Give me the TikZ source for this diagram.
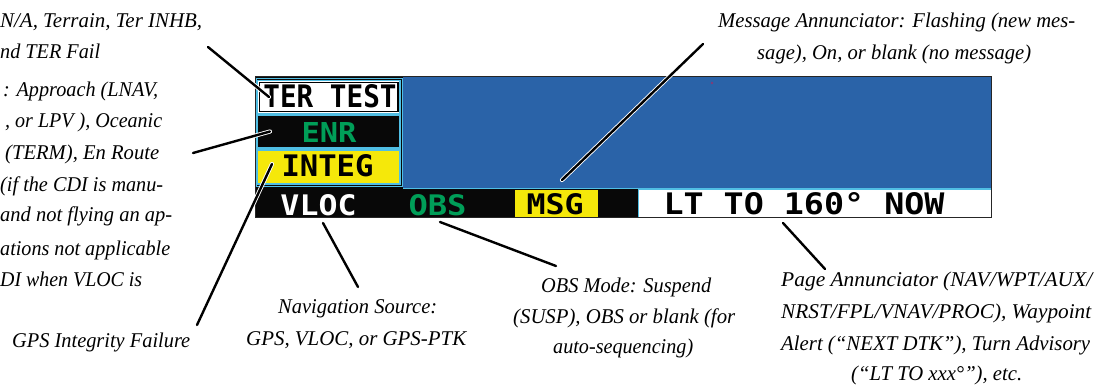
\documentclass[tikz,border=0pt]{standalone}
\usepackage{fontspec}
\usepackage{graphicx}
\setmainfont{Liberation Serif}
\newfontfamily\lcdfont{DejaVu Sans Mono}
\definecolor{pblue}{RGB}{42,99,168}
\definecolor{pcyan}{RGB}{80,190,228}
\definecolor{pgreen}{RGB}{0,158,88}
\definecolor{pyellow}{RGB}{245,232,10}
\definecolor{pblack}{RGB}{8,8,8}
\definecolor{pdot}{RGB}{130,60,120}
\newcommand{\lcdt}[3]{\resizebox{#1pt}{#2pt}{\lcdfont\bfseries #3}}
\newcommand{\hw}[2]{\resizebox{#1pt}{\height}{#2}}
\begin{document}
\begin{tikzpicture}[x=1pt,y=-1pt,
  ann/.style={font=\itshape\fontsize{21}{24}\selectfont, inner sep=0pt, text=black, anchor=base west},
  leader/.style={line width=2.4pt, black, line cap=round, preaction={draw=white, line width=4.2pt, line cap=round}},
  lcdbox/.style={inner sep=0pt}]
\useasboundingbox (0,0) rectangle (1102,387);
\clip (0,0) rectangle (1102,387);
\fill[white] (0,0) rectangle (1102,387);

% ---------------- panel ----------------
\fill[pblack] (255,77) rectangle (991,218);
\fill[pblue] (403,77) rectangle (991,188);
\fill[pdot] (712,83) circle (1.4);
\draw[pcyan, line width=1.2pt] (403,188.5) -- (991,188.5);
\draw[pcyan, line width=1.2pt] (256.5,78.5) rectangle (402.5,186.5);
% TER TEST box
\filldraw[fill=white, draw=pcyan, line width=1.2pt] (257.5,80.5) rectangle (400,113.5);
\draw[black, line width=1.6pt] (259.5,82.5) rectangle (398,111.5);
% ENR box
\draw[pcyan, line width=1.2pt] (257.5,115) rectangle (400,148);
% INTEG box
\filldraw[fill=pyellow, draw=pcyan, line width=1.4pt] (257.5,150) rectangle (400,184);
% bottom bar
\fill[pyellow] (515,190) rectangle (598,217);
\fill[white] (638,190) rectangle (991,217);
\draw[pcyan, line width=1pt] (638,217) -- (638,189.5) -- (991,189.5);
\draw[black!85, line width=1pt] (255,77) rectangle (991,218);

\node[lcdbox, text=black] (ter) at (330,96.5) {\lcdt{133}{23}{TER TEST}};
\node[lcdbox, text=pgreen] (enr) at (329,132.5) {\lcdt{55}{20}{ENR}};
\node[lcdbox, text=black] (integ) at (327.5,166) {\lcdt{92}{22}{INTEG}};
\node[lcdbox, text=white] (vloc) at (318.5,205.5) {\lcdt{76}{21}{VLOC}};
\node[lcdbox, text=pgreen] (obs) at (437.5,205) {\lcdt{58}{21}{OBS}};
\node[lcdbox, text=black] (msg) at (555,204) {\lcdt{57}{21}{MSG}};
\node[lcdbox, text=black] (page) at (804,204) {\lcdt{281}{22}{LT TO 160° NOW}};

% ---------------- annotations ----------------
% terrain (cut at left edge)
\node[ann] (ta1) at (0,28) {\hw{202}{N/A, Terrain, Ter INHB,}};
\node[ann] (ta2) at (0,59) {\hw{100}{nd TER Fail}};
% CDI annunciator (cut at left edge)
\node[ann] (ca1) at (3,97) {\hw{155}{: Approach (LNAV,}};
\node[ann] (ca2) at (5,128) {\hw{157}{, or LPV ), Oceanic}};
\node[ann] (ca3) at (5,160) {\hw{154}{(TERM), En Route}};
\node[ann] (ca4) at (0,192) {\hw{163}{(if the CDI is manu-}};
\node[ann] (ca5) at (0,222) {\hw{172}{and not flying an ap-}};
\node[ann] (ca6) at (0,255) {\hw{170}{ations not applicable}};
\node[ann] (ca7) at (0,287) {\hw{142}{DI when VLOC is}};
% GPS integrity
\node[ann] (gi) at (12,347) {\hw{178}{GPS Integrity Failure}};
% navigation source
\node[ann] (ns1) at (278,313) {\hw{159}{Navigation Source:}};
\node[ann] (ns2) at (246,345) {\hw{220}{GPS, VLOC, or GPS-PTK}};
% OBS mode
\node[ann] (om1) at (541,292) {\hw{170}{OBS Mode: Suspend}};
\node[ann] (om2) at (513,323) {\hw{222}{(SUSP), OBS or blank (for}};
\node[ann] (om3) at (553,353) {\hw{140}{auto-sequencing)}};
% message annunciator
\node[ann] (ma1) at (718,28) {\hw{357}{Message Annunciator: Flashing (new mes-}};
\node[ann] (ma2) at (757,60) {\hw{274}{sage), On, or blank (no message)}};
% page annunciator
\node[ann] (pa1) at (781,287) {\hw{311}{Page Annunciator (NAV/WPT/AUX/}};
\node[ann] (pa2) at (781,318) {\hw{310}{NRST/FPL/VNAV/PROC), Waypoint}};
\node[ann] (pa3) at (781,350) {\hw{309}{Alert (“NEXT DTK”), Turn Advisory}};
\node[ann] (pa4) at (851,380) {\hw{171}{(“LT TO xxx°”), etc.}};

% ---------------- leaders ----------------
\coordinate (l1a) at (208,47);  \coordinate (l1b) at (269,97);
\coordinate (l2a) at (193,153); \coordinate (l2b) at (270,131.5);
\coordinate (l3a) at (197,325); \coordinate (l3b) at (272,164);
\coordinate (l4a) at (323,223); \coordinate (l4b) at (358,287);
\coordinate (l5a) at (440,222); \coordinate (l5b) at (556,266);
\coordinate (l6a) at (562,180); \coordinate (l6b) at (703,44);
\coordinate (l7a) at (783,223); \coordinate (l7b) at (825,269);
\draw[leader] (l1a) -- (l1b);
\draw[leader] (l2a) -- (l2b);
\draw[leader] (l3a) -- (l3b);
\draw[leader] (l4a) -- (l4b);
\draw[leader] (l5a) -- (l5b);
\draw[leader] (l6a) -- (l6b);
\draw[leader] (l7a) -- (l7b);
\end{tikzpicture}
\end{document}
